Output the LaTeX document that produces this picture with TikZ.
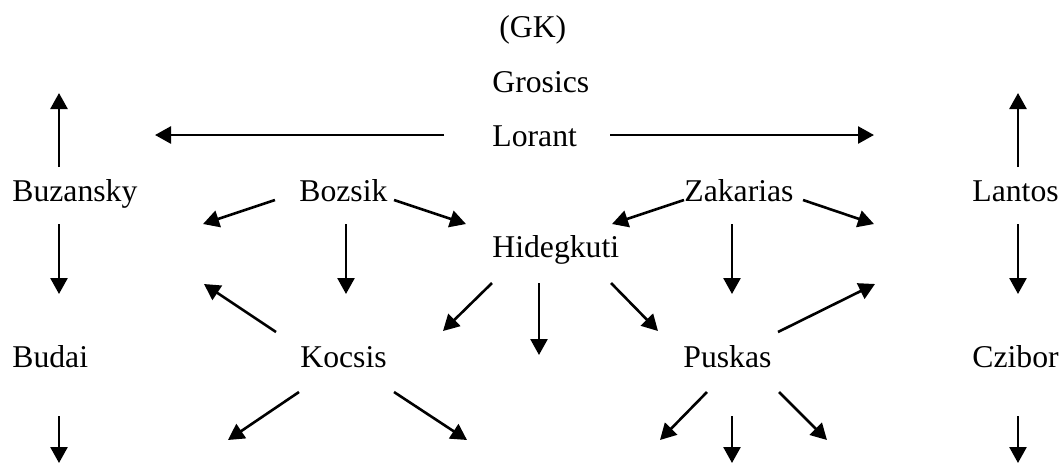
\documentclass[tikz,border=0pt]{standalone}
\usepackage{fontspec}
\setmainfont{Liberation Serif}
\usetikzlibrary{arrows.meta}

\begin{document}
\begin{tikzpicture}
[x=0.5pt, y=-0.5pt,
% STYLES
% The player style is used to write the players' names
player/.style={inner sep=0pt, anchor=base west, font=\fontsize{15.85}{19}\selectfont},
% The pass style is used to draw the arrows between the players
pass/.style={-{Triangle[length=8pt, width=8.5pt]}, line width=1.3pt}]

\useasboundingbox (0,0) rectangle (1062,463);

% Draw players
\node [player] (gk) at (499,37) {(GK)};
\node [player] (grosics) at (492,92) {Grosics};
\node [player] (lorant) at (492,146) {Lorant};
\node [player] (buzansky) at (12,201) {Buzansky};
\node [player] (bozsik) at (299,201) {Bozsik};
\node [player] (zakarias) at (684,201) {Zakarias};
\node [player] (lantos) at (972,201) {Lantos};
\node [player] (hidegkuti) at (492,257) {Hidegkuti};
\node [player] (budai) at (12,367) {Budai};
\node [player] (kocsis) at (300,367) {Kocsis};
\node [player] (puskas) at (683,367) {Puskas};
\node [player] (czibor) at (972,367) {Czibor};

% Arrow ends
% LORANT
\coordinate (lorant-w) at (444,135); \coordinate (lorant-w-to) at (155,135);
\coordinate (lorant-e) at (610,135); \coordinate (lorant-e-to) at (874,135);
% BUZANSKY
\coordinate (buzansky-n) at (59,167); \coordinate (buzansky-n-to) at (59,93);
\coordinate (buzansky-s) at (59,224); \coordinate (buzansky-s-to) at (59,294);
% LANTOS
\coordinate (lantos-n) at (1018,167); \coordinate (lantos-n-to) at (1018,93);
\coordinate (lantos-s) at (1018,224); \coordinate (lantos-s-to) at (1018,294);
% BOZSIK
\coordinate (bozsik-sw) at (275,200); \coordinate (bozsik-sw-to) at (203,224);
\coordinate (bozsik-se) at (394,200); \coordinate (bozsik-se-to) at (466,224);
\coordinate (bozsik-s) at (346,224); \coordinate (bozsik-s-to) at (346,294);
% ZAKARIAS
\coordinate (zakarias-sw) at (684,200); \coordinate (zakarias-sw-to) at (612,224);
\coordinate (zakarias-se) at (803,200); \coordinate (zakarias-se-to) at (874,224);
\coordinate (zakarias-s) at (732,224); \coordinate (zakarias-s-to) at (732,294);
% HIDEGKUTI
\coordinate (hidegkuti-sw) at (492,283); \coordinate (hidegkuti-sw-to) at (443,331);
\coordinate (hidegkuti-s) at (539,283); \coordinate (hidegkuti-s-to) at (539,355);
\coordinate (hidegkuti-se) at (611,283); \coordinate (hidegkuti-se-to) at (658,331);
% KOCSIS
\coordinate (kocsis-nw) at (276,332); \coordinate (kocsis-nw-to) at (204,284);
\coordinate (kocsis-sw) at (299,392); \coordinate (kocsis-sw-to) at (228,440);
\coordinate (kocsis-se) at (394,392); \coordinate (kocsis-se-to) at (467,440);
% PUSKAS
\coordinate (puskas-ne) at (778,332); \coordinate (puskas-ne-to) at (875,284);
\coordinate (puskas-sw) at (707,392); \coordinate (puskas-sw-to) at (660,440);
\coordinate (puskas-s) at (732,416); \coordinate (puskas-s-to) at (732,463);
\coordinate (puskas-se) at (779,392); \coordinate (puskas-se-to) at (827,440);
% BUDAI, CZIBOR
\coordinate (budai-s) at (59,416); \coordinate (budai-s-to) at (59,463);
\coordinate (czibor-s) at (1018,416); \coordinate (czibor-s-to) at (1018,463);

% Draw the passes
\path[pass]
    (lorant-w) edge (lorant-w-to)
    (lorant-e) edge (lorant-e-to)
    (buzansky-n) edge (buzansky-n-to)
    (buzansky-s) edge (buzansky-s-to)
    (lantos-n) edge (lantos-n-to)
    (lantos-s) edge (lantos-s-to)
    (bozsik-sw) edge (bozsik-sw-to)
    (bozsik-se) edge (bozsik-se-to)
    (bozsik-s) edge (bozsik-s-to)
    (zakarias-sw) edge (zakarias-sw-to)
    (zakarias-se) edge (zakarias-se-to)
    (zakarias-s) edge (zakarias-s-to)
    (hidegkuti-sw) edge (hidegkuti-sw-to)
    (hidegkuti-s) edge (hidegkuti-s-to)
    (hidegkuti-se) edge (hidegkuti-se-to)
    (kocsis-nw) edge (kocsis-nw-to)
    (kocsis-sw) edge (kocsis-sw-to)
    (kocsis-se) edge (kocsis-se-to)
    (puskas-ne) edge (puskas-ne-to)
    (puskas-sw) edge (puskas-sw-to)
    (puskas-s) edge (puskas-s-to)
    (puskas-se) edge (puskas-se-to)
    (budai-s) edge (budai-s-to)
    (czibor-s) edge (czibor-s-to);

\end{tikzpicture}
\end{document}
